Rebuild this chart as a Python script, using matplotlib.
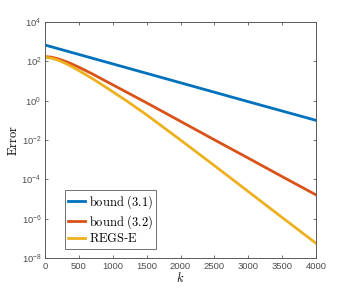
import matplotlib
matplotlib.use("Agg")
import matplotlib.pyplot as plt
import numpy as np

# iteration counts and log10(error)
k_blue = [0, 1000, 2000, 3000, 4000]
log_blue = [2.83, 1.87, 0.91, -0.05, -1.00]

k_curve = [0, 100, 200, 300, 400, 500, 700, 900, 1200, 1500, 2000, 2500, 3000, 3500, 4000]
log_red = [2.24, 2.21, 2.12, 2.00, 1.86, 1.70, 1.36, 0.99, 0.44, -0.11, -1.05, -1.99, -2.92, -3.86, -4.79]
log_yellow = [2.20, 2.16, 2.05, 1.90, 1.72, 1.53, 1.12, 0.68, 0.00, -0.72, -2.00, -3.30, -4.62, -5.94, -7.25]

labels = [r"$\mathrm{bound\ (3.1)}$", r"$\mathrm{bound\ (3.2)}$", r"$\mathrm{REGS}$-$\mathrm{E}$"]
colors = ["#0072BD", "#D95319", "#EDB120"]

plt.rcParams["mathtext.fontset"] = "cm"
plt.rcParams["font.family"] = ["Liberation Sans", "DejaVu Sans"]

fig = plt.figure(figsize=(3.49, 2.91), dpi=100)
ax = fig.add_axes([45 / 349, 1 - 258 / 291, 271 / 349, 236 / 291])

ax.plot(k_blue, 10.0 ** np.array(log_blue), color=colors[0], lw=2.0, label=labels[0])
ax.plot(k_curve, 10.0 ** np.array(log_red), color=colors[1], lw=2.0, label=labels[1])
ax.plot(k_curve, 10.0 ** np.array(log_yellow), color=colors[2], lw=2.0, label=labels[2])

ax.set_yscale("log")
ax.set_xlim(0, 4000)
ax.set_ylim(1e-8, 1e4)
ax.set_xticks(np.arange(0, 4001, 500))
ax.set_yticks([1e-8, 1e-6, 1e-4, 1e-2, 1e0, 1e2, 1e4])
ax.yaxis.set_minor_locator(matplotlib.ticker.NullLocator())

grey = "0.35"
for sp in ax.spines.values():
    sp.set_color(grey)
    sp.set_linewidth(0.7)
ax.tick_params(which="both", direction="in", top=True, right=True,
               length=2.5, width=0.6, color=grey, labelsize=6.8, labelcolor="0.3")
ax.tick_params(axis="x", pad=3.0)
ax.tick_params(axis="y", pad=2.5)

ax.set_xlabel(r"$k$", fontsize=9, labelpad=0)
ax.set_ylabel(r"$\mathrm{Error}$", fontsize=9, labelpad=1)

leg = ax.legend(loc="lower left", bbox_to_anchor=(0.072, 0.04), fontsize=9,
                frameon=True, fancybox=False, handlelength=1.4, handletextpad=0.3,
                borderpad=0.25, labelspacing=0.15, borderaxespad=0)
leg.get_frame().set_edgecolor("0.3")
leg.get_frame().set_linewidth(0.7)

fig.savefig("out.png", dpi=100)
